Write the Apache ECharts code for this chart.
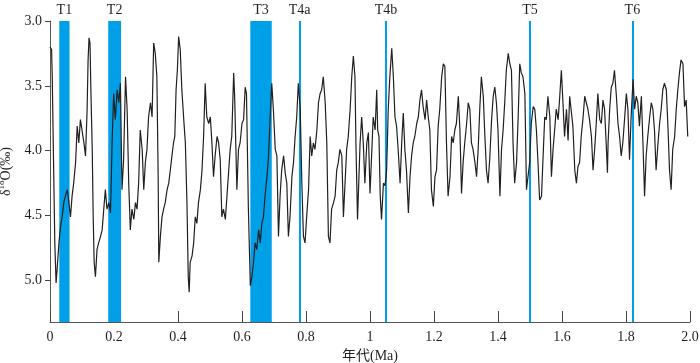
<!DOCTYPE html>
<html><head><meta charset="utf-8">
<script src="https://cdn.jsdelivr.net/npm/echarts@6/dist/echarts.min.js"></script>
<style>html,body{margin:0;padding:0;background:#fff}#c{width:700px;height:363px}</style>
</head><body><div id="c"></div>
<script>
// Age (Ma)
const ages = [
0.000,0.005,0.007,0.011,0.015,0.019,0.022,0.028,0.033,0.038,0.043,0.048,0.054,0.059,0.064,0.069,0.074,0.080,0.085,0.090,
0.095,0.100,0.106,0.111,0.116,0.119,0.122,0.125,0.128,0.132,0.135,0.138,0.142,0.147,0.152,0.158,0.163,0.168,0.173,0.178,
0.184,0.189,0.194,0.199,0.204,0.210,0.215,0.220,0.225,0.230,0.236,0.241,
0.246,0.251,0.256,0.262,0.267,0.272,0.277,0.282,0.288,0.293,0.298,0.303,0.308,0.314,0.319,0.324,0.329,0.334,0.338,0.340,
0.345,0.350,0.355,0.360,0.366,0.371,0.376,0.381,0.386,0.390,0.394,0.398,0.402,0.407,0.412,0.418,0.423,0.428,0.432,0.435,
0.438,0.444,0.449,0.454,0.459,0.464,0.470,0.475,0.480,0.485,0.490,
0.496,0.501,0.506,0.511,0.516,0.522,0.527,0.532,0.537,0.542,0.548,0.553,0.558,0.563,0.568,0.574,0.577,0.581,0.584,0.589,
0.594,0.600,0.605,0.610,0.614,0.620,0.626,0.631,0.636,0.641,0.646,0.652,0.657,0.662,0.667,0.672,0.678,0.683,0.688,0.693,
0.698,0.704,0.709,0.714,0.719,0.724,0.730,0.735,0.740,
0.745,0.750,0.756,0.761,0.766,0.771,0.776,0.782,0.787,0.792,0.797,0.802,0.808,0.813,0.818,0.823,0.828,0.834,0.839,0.844,
0.849,0.854,0.860,0.865,0.870,0.875,0.880,0.886,0.891,0.896,0.901,0.906,0.912,0.917,0.922,0.927,0.932,0.938,0.943,0.948,
0.953,0.956,0.961,0.969,0.974,0.979,0.984,0.990,0.995,
1.000,1.005,1.010,1.016,1.021,1.024,1.028,1.032,1.036,1.042,1.047,1.052,1.057,1.062,1.068,1.073,1.078,1.083,1.088,1.094,
1.099,1.104,1.109,1.114,1.120,1.125,1.130,1.135,1.140,1.146,1.151,1.156,1.161,1.166,1.172,1.177,1.182,1.187,1.192,1.198,
1.203,1.208,1.213,1.218,1.224,1.229,1.234,
1.239,1.244,1.250,1.255,1.260,1.265,1.270,1.276,1.281,1.286,1.291,1.296,1.302,1.307,1.312,1.317,1.322,1.328,1.333,1.338,
1.343,1.348,1.354,1.359,1.364,1.369,1.374,1.380,1.385,1.390,1.395,1.400,1.406,1.411,1.416,1.421,1.426,1.432,1.437,1.442,
1.447,1.452,1.458,1.463,1.468,1.473,1.478,1.484,1.489,
1.494,1.499,1.504,1.510,1.515,1.520,1.525,1.530,1.536,1.541,1.546,1.551,1.556,1.562,1.567,1.572,1.577,1.582,1.588,1.593,
1.598,1.603,1.608,1.614,1.619,1.624,1.629,1.634,1.640,1.645,1.650,1.655,1.660,1.666,1.671,1.676,1.681,1.686,1.692,1.697,
1.702,1.707,1.712,1.718,1.723,1.728,1.733,1.738,
1.742,1.744,1.749,1.754,1.759,1.764,1.770,1.775,1.780,1.785,1.790,1.796,1.801,1.806,1.811,1.816,1.822,1.827,1.832,1.837,
1.842,1.848,1.853,1.858,1.863,1.868,1.874,1.879,1.884,1.889,1.894,1.900,1.905,1.910,1.915,1.920,1.926,1.931,1.936,1.941,
1.946,1.952,1.957,1.962,1.967,1.972,1.978,1.983,1.988,1.993
];
// benthic δ18O (‰)
const d18O = [
3.20,3.22,3.43,4.07,4.71,5.02,4.92,4.71,4.58,4.51,4.40,4.35,4.30,4.40,4.51,4.35,4.25,4.09,3.81,3.94,
3.76,3.84,3.94,4.04,3.68,3.30,3.13,3.17,3.56,3.99,4.51,4.86,4.97,4.76,4.71,4.66,4.61,4.45,4.30,4.45,
4.40,4.48,3.94,3.56,3.76,3.53,3.63,3.48,4.30,4.07,3.43,3.68,
4.25,4.61,4.45,4.53,4.40,4.45,4.25,3.84,3.99,4.30,4.09,3.99,3.74,3.63,3.74,3.17,3.25,3.43,4.20,4.86,
4.66,4.51,4.45,4.40,4.30,4.25,4.15,4.04,3.94,3.89,3.53,3.38,3.12,3.22,3.53,3.76,3.94,4.40,4.97,5.09,
4.86,4.81,4.71,4.51,4.56,4.40,4.30,4.15,3.89,3.48,3.74,
3.79,3.74,3.94,4.20,4.04,3.89,3.94,4.07,4.51,4.45,4.53,4.35,4.17,3.99,3.89,3.40,3.58,3.99,4.30,3.99,
3.94,3.79,3.76,3.51,3.56,4.45,5.04,4.97,4.86,4.71,4.76,4.61,4.71,4.56,4.51,4.35,4.20,4.04,3.74,3.48,
3.68,3.99,4.04,4.66,4.35,4.15,4.04,4.17,4.25,
4.66,4.51,4.20,4.09,3.89,3.74,3.48,3.68,4.25,4.66,4.71,4.51,4.30,3.89,4.04,3.94,3.99,3.84,3.63,3.56,
3.53,3.43,3.63,3.94,4.66,4.71,4.45,4.40,4.35,4.15,4.09,3.99,4.04,4.51,4.25,3.99,3.89,3.68,3.43,3.27,
3.43,3.94,4.53,3.94,3.74,3.94,4.25,3.94,3.86,
4.33,4.04,3.74,3.84,3.53,3.84,3.89,4.35,4.53,4.25,4.27,4.15,3.68,3.43,3.21,3.43,3.74,3.81,3.99,4.25,
3.94,3.71,3.99,4.15,4.48,4.20,4.04,3.94,3.89,3.79,3.74,3.61,3.53,3.66,3.76,3.61,3.74,3.84,4.30,4.43,
4.20,4.15,3.81,3.68,3.43,3.33,3.35,
3.94,4.35,4.20,3.89,3.94,3.84,3.79,3.58,3.84,4.33,4.09,3.94,3.79,3.63,3.68,3.94,3.99,4.09,4.20,3.99,
3.68,3.43,3.58,3.89,4.15,4.25,4.07,3.76,3.58,3.51,3.63,3.84,4.35,3.99,3.84,3.63,3.38,3.25,3.33,3.38,
3.94,4.25,4.09,3.74,3.33,3.40,3.43,3.56,4.30,
4.30,4.09,3.79,3.66,3.68,3.84,4.09,4.38,4.35,4.04,3.74,3.76,3.58,3.74,4.20,3.99,3.84,3.68,3.76,3.58,
3.38,3.63,3.89,3.68,3.92,3.58,3.58,3.81,4.15,4.25,4.12,4.09,3.89,3.74,3.58,3.63,3.68,3.76,3.89,4.15,
3.99,3.79,3.56,3.76,3.79,3.61,3.68,3.94,
4.17,3.94,3.68,3.51,3.48,3.38,3.58,3.79,3.89,4.04,3.94,3.74,3.56,3.68,4.07,3.74,3.45,3.68,3.58,3.63,
3.81,3.58,3.94,4.35,4.04,3.89,3.74,3.63,3.68,3.84,4.15,3.94,3.79,3.68,3.53,3.48,3.53,3.81,4.15,4.30,
3.99,3.89,3.68,3.53,3.40,3.30,3.33,3.66,3.61,3.89
];
const bandNames = ['T1','T2','T3'];
const bandStart = [0.029,0.182,0.626];
const bandEnd = [0.061,0.222,0.693];
const lineNames = ['T4a','T4b','T5','T6'];
const linePos = [0.782,1.053,1.497,1.820];
const xTicks = [0,0.2,0.4,0.6,0.8,1.0,1.2,1.4,1.6,1.8,2.0];
const yTicks = [3.0,3.5,4.0,4.5,5.0];

const BLUE = '#00a0e9';
const INK = '#231f20';
const SERIF = 'Liberation Serif';
const chart = echarts.init(document.getElementById('c'), null, {renderer:'canvas'});
chart.setOption({
  animation:false,
  grid:{left:50,right:10,top:21,bottom:41,containLabel:false,outerBoundsMode:'none'},
  xAxis:{
    type:'value',min:0,max:2,interval:0.2,
    name:'年代(Ma)',nameLocation:'middle',nameGap:21,
    nameTextStyle:{fontFamily:'Liberation Serif, Noto Sans CJK SC',fontSize:14,color:INK},
    axisLine:{lineStyle:{color:'#555',width:1}},
    axisTick:{inside:true,length:11,lineStyle:{color:'#444'},customValues:xTicks},
    axisLabel:{fontFamily:SERIF,fontSize:14,color:INK,margin:8,customValues:xTicks,
      formatter:v=>{const r=Math.round(v*10)/10; return r===2?'2.0':String(r);}},
    splitLine:{show:false}
  },
  yAxis:{
    type:'value',inverse:true,min:3.0,max:5.32,interval:0.5,
    name:'{a|δ}{s|18}{a|O(‰)}',nameLocation:'middle',nameGap:27,
    nameTextStyle:{rich:{
      a:{fontFamily:SERIF,fontSize:14,color:INK,lineHeight:16,verticalAlign:'bottom'},
      s:{fontFamily:SERIF,fontSize:9,color:INK,lineHeight:16,verticalAlign:'top'}
    }},
    axisLine:{show:true,lineStyle:{color:'#555',width:1}},
    axisTick:{show:true,inside:false,length:5,lineStyle:{color:'#444'},customValues:yTicks},
    axisLabel:{fontFamily:SERIF,fontSize:14,color:INK,margin:8,customValues:yTicks,
      formatter:v=>v.toFixed(1)},
    splitLine:{show:false}
  },
  series:[
    {
      type:'line',data:[],z:1,silent:true,
      markArea:{silent:true,itemStyle:{color:BLUE,opacity:1},
        label:{show:true,position:'top',distance:4,fontFamily:SERIF,fontSize:14,color:INK},
        data:bandNames.map((n,i)=>[{xAxis:bandStart[i],name:n},{xAxis:bandEnd[i]}])},
      markLine:{silent:true,symbol:['none','none'],
        lineStyle:{color:BLUE,width:2,type:'solid'},
        label:{show:true,position:'start',distance:4,fontFamily:SERIF,fontSize:14,color:INK,formatter:p=>p.name},
        data:lineNames.map((n,i)=>({xAxis:linePos[i],name:n}))}
    },
    {
      type:'line',z:5,showSymbol:false,silent:true,
      data:ages.map((a,i)=>[a,d18O[i]]),
      lineStyle:{color:INK,width:1.2}
    }
  ]
});
</script></body></html>
